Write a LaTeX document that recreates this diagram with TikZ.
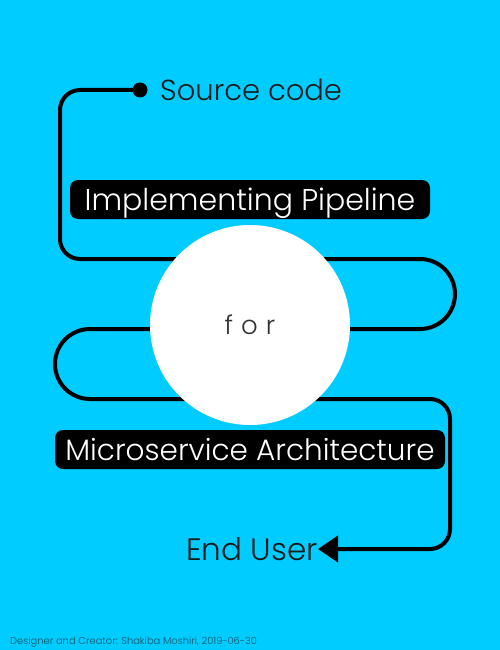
\documentclass[tikz,border=0pt]{standalone}
\usepackage{fontspec}
\setmainfont{Poppins Light}
\usetikzlibrary{arrows.meta}
\definecolor{bgc}{RGB}{0,204,255}
\definecolor{foot}{RGB}{20,80,100}
\begin{document}
\begin{tikzpicture}[x=1pt,y=-1pt,
  pipe/.style={line width=4pt,black},
  titlebox/.style={fill=black,rounded corners=8pt,text=white,inner sep=0pt,minimum height=39pt,text height=21pt,text depth=0pt,font=\fontsize{30}{30}\selectfont},
  plain/.style={inner sep=0pt,text=black!90,font=\fontsize{29}{29}\selectfont}]
\fill[bgc] (0,0) rectangle (500,650);
\useasboundingbox (0,0) rectangle (500,650);
\node[circle,fill=black,minimum size=15pt,inner sep=0pt] (src) at (140,90) {};
\node[plain,anchor=base west] (srctext) at (160,101) {Source code};
\node[plain,anchor=base east,font=\fontsize{31}{31}\selectfont] (enduser) at (318,560) {End User};
\draw[pipe,-{Triangle[length=20pt,width=26pt]}] (src.center) -- (80,90)
  arc[start angle=-90,end angle=-180,radius=20] -- (60,239)
  arc[start angle=-180,end angle=-270,radius=20] -- (420,259)
  arc[start angle=-90,end angle=90,radius=35] -- (90,329)
  arc[start angle=-90,end angle=-270,radius=35] -- (430,399)
  arc[start angle=-90,end angle=0,radius=20] -- (450,529)
  arc[start angle=0,end angle=90,radius=20] -- (enduser.east |- 0,549);
\node[circle,fill=white,minimum size=200pt,inner sep=0pt] (hub) at (250,325) {};
\node[inner sep=0pt,text=black!80,font=\fontsize{26}{26}\selectfont] (for) at (250,325) {f\hspace{8pt}o\hspace{8pt}r};
\node[titlebox,minimum width=360pt] (impl) at (250,199.5) {Implementing Pipeline};
\node[titlebox,minimum width=390pt,font=\fontsize{29.5}{29.5}\selectfont] (micro) at (250,449.5) {Microservice Architecture};
\node[inner sep=0pt,anchor=base west,text=foot,font=\fontsize{9.9}{9.9}\selectfont] (credit) at (10,644) {Designer and Creator: Shakiba Moshiri, 2019-06-30};
\end{tikzpicture}
\end{document}
